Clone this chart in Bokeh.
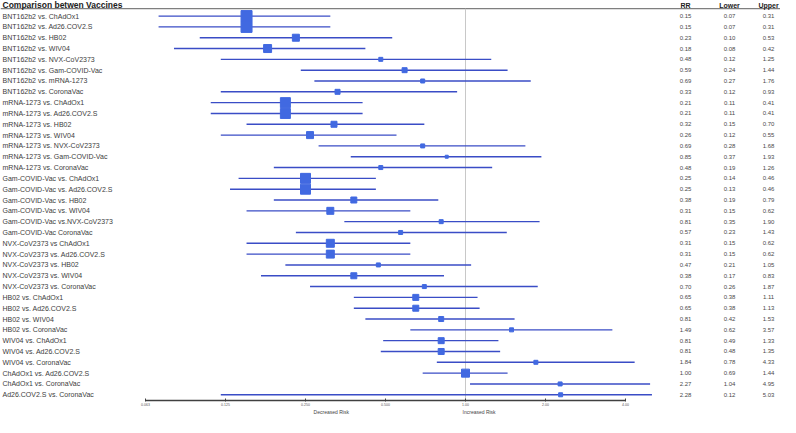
from bokeh.plotting import figure
from bokeh.models import Range1d, FixedTicker, LogAxis, ColumnDataSource
from bokeh.core.properties import value
from bokeh.embed import file_html
from bokeh.resources import INLINE

# ---------------- data ----------------
labels = [
    "BNT162b2 vs. ChAdOx1", "BNT162b2 vs. Ad26.COV2.S", "BNT162b2 vs. HB02",
    "BNT162b2 vs. WIV04", "BNT162b2 vs. NVX-CoV2373", "BNT162b2 vs. Gam-COVID-Vac",
    "BNT162b2 vs. mRNA-1273", "BNT162b2 vs. CoronaVac",
    "mRNA-1273 vs. ChAdOx1", "mRNA-1273 vs. Ad26.COV2.S", "mRNA-1273 vs. HB02",
    "mRNA-1273 vs. WIV04", "mRNA-1273 vs. NVX-CoV2373", "mRNA-1273 vs. Gam-COVID-Vac",
    "mRNA-1273 vs. CoronaVac",
    "Gam-COVID-Vac vs. ChAdOx1", "Gam-COVID-Vac vs. Ad26.COV2.S", "Gam-COVID-Vac vs. HB02",
    "Gam-COVID-Vac vs. WIV04", "Gam-COVID-Vac vs.NVX-CoV2373", "Gam-COVID-Vac CoronaVac",
    "NVX-CoV2373 vs ChAdOx1", "NVX-CoV2373 vs. Ad26.COV2.S", "NVX-CoV2373 vs. HB02",
    "NVX-CoV2373 vs. WIV04", "NVX-CoV2373 vs. CoronaVac",
    "HB02 vs. ChAdOx1", "HB02 vs. Ad26.COV2.S", "HB02 vs. WIV04", "HB02 vs. CoronaVac",
    "WIV04 vs. ChAdOx1", "WIV04 vs. Ad26.COV2.S", "WIV04 vs. CoronaVac",
    "ChAdOx1 vs. Ad26.COV2.S", "ChAdOx1 vs. CoronaVac", "Ad26.COV2.S vs. CoronaVac",
]
rr = [0.15, 0.15, 0.23, 0.18, 0.48, 0.59, 0.69, 0.33,
      0.21, 0.21, 0.32, 0.26, 0.69, 0.85, 0.48,
      0.25, 0.25, 0.38, 0.31, 0.81, 0.57,
      0.31, 0.31, 0.47, 0.38, 0.70,
      0.65, 0.65, 0.81, 1.49,
      0.81, 0.81, 1.84,
      1.00, 2.27, 2.28]
lower = [0.07, 0.07, 0.10, 0.08, 0.12, 0.24, 0.27, 0.12,
         0.11, 0.11, 0.15, 0.12, 0.28, 0.37, 0.19,
         0.14, 0.13, 0.19, 0.15, 0.35, 0.23,
         0.15, 0.15, 0.21, 0.17, 0.26,
         0.38, 0.38, 0.42, 0.62,
         0.49, 0.48, 0.78,
         0.69, 1.04, 0.12]
upper = [0.31, 0.31, 0.53, 0.42, 1.25, 1.44, 1.76, 0.93,
         0.41, 0.41, 0.70, 0.55, 1.68, 1.93, 1.26,
         0.46, 0.46, 0.79, 0.62, 1.90, 1.43,
         0.62, 0.62, 1.05, 0.83, 1.87,
         1.11, 1.13, 1.53, 3.57,
         1.33, 1.35, 4.33,
         1.44, 4.95, 5.03]
weights = [11, 11, 7, 8, 4, 5, 4, 5,
           10, 10, 6, 7, 4, 3, 4,
           10, 10, 6, 7, 4, 4,
           8, 8, 4, 6, 4,
           6, 6, 5, 4,
           6, 6, 4,
           8, 4, 4]
tick_values = [0.0625, 0.125, 0.25, 0.5, 1.0, 2.0, 4.0]
tick_labels = ["0.063", "0.125", "0.250", "0.500", "1.00", "2.00", "4.00"]
risk_positions = [0.3125, 1.125]
risk_labels = ["Decreased Risk", "Increased Risk"]
header_title = "Comparison betwen Vaccines"
column_titles = ["RR", "Lower", "Upper"]

# ---------------- layout ----------------
W, H = 780, 417
PX_PER_DOUBLING = 80
REF_PX = 465               # pixel position of RR = 1 inside the frame
xmin = 2 ** ((0 - REF_PX) / PX_PER_DOUBLING)
xmax = 2 ** ((W - REF_PX) / PX_PER_DOUBLING)
FONT = "Liberation Sans"
LINE_COLOR = "#3A4DC6"
SQUARE_COLOR = "#4169E1"

n = len(labels)
rows = list(range(1, n + 1))
src = ColumnDataSource(dict(
    y=rows, label=labels, rr=rr, lower=lower, upper=upper, w=weights,
    rr_s=[f"{v:.2f}" for v in rr],
    lo_s=[f"{v:.2f}" for v in lower],
    up_s=[f"{v:.2f}" for v in upper],
))

Y_BOTTOM = n + 0.53
Y_TOP = -0.44
p = figure(width=W, height=H, x_axis_type="log",
           x_range=Range1d(xmin, xmax), y_range=Range1d(Y_BOTTOM, Y_TOP),
           output_backend="svg", toolbar_location=None, tools="",
           y_axis_location=None, min_border_left=0, min_border_right=0,
           min_border_top=0, min_border_bottom=0)
p.outline_line_color = None
p.xgrid.visible = False
p.ygrid.visible = False
p.background_fill_color = "white"

HEADER_LINE_Y = 0.32
# header rule and reference line at RR = 1
p.segment(x0=[xmin], x1=[xmax], y0=[HEADER_LINE_Y], y1=[HEADER_LINE_Y],
          line_color="#7F7F7F", line_width=1.3)
p.segment(x0=[1.0], x1=[1.0], y0=[HEADER_LINE_Y], y1=[Y_BOTTOM],
          line_color="#C8C8C8", line_width=1)

# confidence intervals and point estimates
p.segment(x0="lower", x1="upper", y0="y", y1="y", source=src,
          line_color=LINE_COLOR, line_width=1.4)
p.scatter(x="rr", y="y", size="w", marker="square", source=src,
          fill_color=SQUARE_COLOR, line_color=SQUARE_COLOR)

# row labels
p.text(x=xmin, y="y", text="label", source=src, x_offset=2,
       text_align="left", text_baseline="middle",
       text_font=value(FONT), text_font_size="7px", text_color="#3C3C3C")

# table columns
col_offsets = [-95, -51, -12]
for field, off in zip(["rr_s", "lo_s", "up_s"], col_offsets):
    p.text(x=xmax, y="y", text=field, source=src, x_offset=off,
           text_align="center", text_baseline="middle",
           text_font=value(FONT), text_font_size="6px", text_color="#4A4A4A")

# headers
p.text(x=[xmin], y=[0], text=[header_title], x_offset=2,
       text_align="left", text_baseline="middle",
       text_font=value(FONT), text_font_size="8.5px", text_font_style="bold",
       text_color="#222222")
for title, off in zip(column_titles, col_offsets):
    p.text(x=[xmax], y=[0], text=[title], x_offset=off,
           text_align="center", text_baseline="middle",
           text_font=value(FONT), text_font_size="7px", text_font_style="bold",
           text_color="#222222")

# main x axis
ax = p.xaxis[0]
ax.ticker = FixedTicker(ticks=tick_values, minor_ticks=[])
ax.major_label_overrides = {float(v): t for v, t in zip(tick_values, tick_labels)}
ax.bounds = (tick_values[0], tick_values[-1])
ax.axis_line_color = "#404040"
ax.axis_line_width = 1.3
ax.major_tick_line_color = "#404040"
ax.major_tick_in = 2
ax.major_tick_out = 1
ax.minor_tick_line_color = None
ax.major_label_text_font = FONT
ax.major_label_text_font_size = "3.5px"
ax.major_label_text_color = "#555555"
ax.major_label_standoff = 1

# risk direction labels
ax2 = LogAxis(ticker=FixedTicker(ticks=risk_positions, minor_ticks=[]),
              major_label_overrides={float(v): t for v, t in zip(risk_positions, risk_labels)},
              axis_line_color=None, major_tick_line_color=None,
              major_tick_in=0, major_tick_out=0,
              minor_tick_line_color=None, minor_tick_in=0, minor_tick_out=0,
              major_label_standoff=0,
              major_label_text_font=FONT, major_label_text_font_size="5px",
              major_label_text_color="#444444")
p.add_layout(ax2, "below")

open("out.html", "w").write(file_html(p, INLINE))
